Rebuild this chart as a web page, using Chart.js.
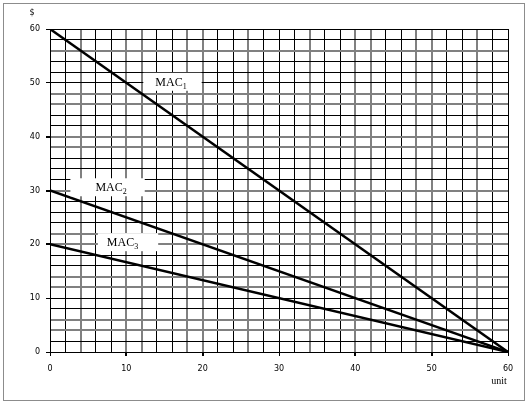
<!DOCTYPE html>
<html>
<head>
<meta charset="utf-8">
<script src="https://cdn.jsdelivr.net/npm/chart.js@4"></script>
<style>
  html, body { margin: 0; padding: 0; background: #fff; }
  #wrap { width: 529px; height: 405px; position: relative; }
</style>
</head>
<body>
<div id="wrap"><canvas id="c" width="529" height="405"></canvas></div>
<script>
// ---- data ----
const units = [0, 60];
const mac1 = [60, 0];
const mac2 = [30, 0];
const mac3 = [20, 0];
const seriesNames = ['MAC', 'MAC', 'MAC'];
const seriesSubs = ['1', '2', '3'];
const xTitle = 'unit';
const yTitle = '$';

// label placement (data coords of text centre) and box padding
const labelPlaces = [
  { x: 15.85, y: 50.2, padL: 12, padR: 15 },
  { x: 8.0,  y: 30.6, padL: 25, padR: 18 },
  { x: 9.5,  y: 20.4, padL: 9,  padR: 20 }
];

function pts(ys) { return units.map((u, i) => ({ x: u, y: ys[i] })); }

function gridColor(ctx) {
  const s = ctx.scale;
  if (!s || !ctx.tick) return '#000';
  const p = s.getPixelForValue(ctx.tick.value);
  const f = p - Math.floor(p);
  return (f > 0.3 && f < 0.7) ? '#808080' : '#000000';
}
function gridWidth(ctx) {
  const s = ctx.scale;
  if (!s || !ctx.tick) return 1;
  const p = s.getPixelForValue(ctx.tick.value);
  const f = p - Math.floor(p);
  return (f > 0.3 && f < 0.7) ? 2 : 1;
}
function tickCol(ctx) {
  return (ctx.tick && ctx.tick.value % 10 === 0) ? '#000' : 'rgba(0,0,0,0)';
}

const decor = {
  id: 'decor',
  beforeDraw(chart) {
    const c = chart.ctx;
    c.save();
    c.fillStyle = '#fff';
    c.fillRect(0, 0, chart.width, chart.height);
    c.strokeStyle = '#8c8c8c';
    c.lineWidth = 1;
    c.strokeRect(3.5, 3.5, 521, 397);
    c.restore();
  },
  afterDatasetsDraw(chart) {
    const c = chart.ctx;
    const xs = chart.scales.x, ys = chart.scales.y;
    c.save();
    // series labels
    labelPlaces.forEach((lp, i) => {
      c.font = '12px "Liberation Serif"';
      const wMain = c.measureText(seriesNames[i]).width;
      c.font = '8px "Liberation Serif"';
      const wSub = c.measureText(seriesSubs[i]).width;
      const w = wMain + wSub;
      const cx = xs.getPixelForValue(lp.x);
      const cy = ys.getPixelForValue(lp.y);
      const left = cx - w / 2;
      c.fillStyle = '#fff';
      c.fillRect(left - lp.padL, cy - 9, w + lp.padL + lp.padR, 18);
      c.fillStyle = '#000';
      c.textBaseline = 'alphabetic';
      c.textAlign = 'left';
      c.font = '12px "Liberation Serif"';
      c.fillText(seriesNames[i], left, cy + 4);
      c.font = '8px "Liberation Serif"';
      c.fillText(seriesSubs[i], left + wMain, cy + 7);
    });
    // axis titles
    c.fillStyle = '#000';
    c.font = '8px "DejaVu Sans"';
    c.textAlign = 'center';
    c.textBaseline = 'middle';
    c.fillText(yTitle, 32, 13);
    c.font = '10px "Liberation Serif"';
    c.fillText(xTitle, 499, 381);
    c.restore();
  }
};

new Chart(document.getElementById('c'), {
  type: 'scatter',
  data: {
    datasets: [
      { data: pts(mac1), showLine: true, borderColor: '#000', borderWidth: 2.5, pointRadius: 0, tension: 0 },
      { data: pts(mac2), showLine: true, borderColor: '#000', borderWidth: 2.5, pointRadius: 0, tension: 0 },
      { data: pts(mac3), showLine: true, borderColor: '#000', borderWidth: 2.5, pointRadius: 0, tension: 0 }
    ]
  },
  options: {
    responsive: false,
    animation: false,
    events: [],
    layout: { padding: { left: 0, right: 21, top: 29, bottom: 0 } },
    plugins: { legend: { display: false }, tooltip: { enabled: false } },
    scales: {
      x: {
        type: 'linear', min: 0, max: 60,
        afterFit(s) { s.height = 53; },
        border: { display: true, color: '#000', width: 1 },
        grid: { color: gridColor, lineWidth: gridWidth, tickColor: tickCol, tickLength: 4, drawTicks: true },
        ticks: {
          stepSize: 2, autoSkip: false, maxRotation: 0, padding: 8,
          color: '#000', font: { family: 'DejaVu Sans', size: 8 },
          callback: v => (v % 10 === 0 ? String(v) : '')
        }
      },
      y: {
        type: 'linear', min: 0, max: 60,
        afterFit(s) { s.width = 50; },
        border: { display: true, color: '#000', width: 1 },
        grid: { color: gridColor, lineWidth: gridWidth, tickColor: tickCol, tickLength: 4, drawTicks: true },
        ticks: {
          stepSize: 2, autoSkip: false, padding: 6,
          color: '#000', font: { family: 'DejaVu Sans', size: 8 },
          callback: v => (v % 10 === 0 ? String(v) : '')
        }
      }
    }
  },
  plugins: [decor]
});
</script>
</body>
</html>
